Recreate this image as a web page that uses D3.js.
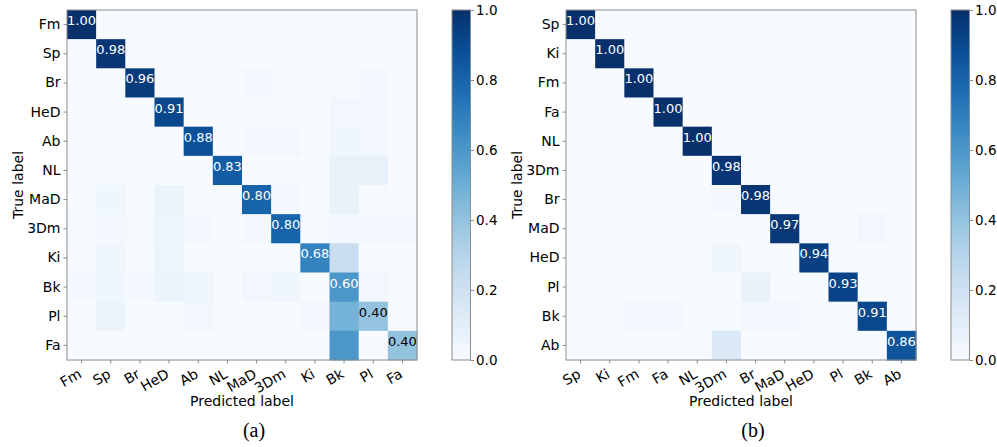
<!DOCTYPE html>
<html>
<head>
<meta charset="utf-8">
<script src="https://cdn.jsdelivr.net/npm/d3@7"></script>
<style>
  body { margin: 0; background: #fff; }
  text { font-family: "DejaVu Sans", sans-serif; }
</style>
</head>
<body>
<svg id="chart" width="997" height="447"></svg>
<script>
// class labels, in the order of each confusion matrix
const labelsA = ['Fm', 'Sp', 'Br', 'HeD', 'Ab', 'NL', 'MaD', '3Dm', 'Ki', 'Bk', 'Pl', 'Fa'];
const labelsB = ['Sp', 'Ki', 'Fm', 'Fa', 'NL', '3Dm', 'Br', 'MaD', 'HeD', 'Pl', 'Bk', 'Ab'];

// normalised confusion matrices (rows = true label, cols = predicted label)
const valuesA = [
  [1.00, 0, 0, 0, 0, 0, 0, 0, 0, 0, 0, 0],
  [0, 0.98, 0, 0, 0, 0, 0, 0, 0, 0.01, 0, 0.01],
  [0, 0, 0.96, 0, 0, 0, 0.02, 0, 0, 0, 0.02, 0],
  [0, 0.01, 0, 0.91, 0, 0, 0.01, 0.01, 0, 0.03, 0.03, 0],
  [0, 0, 0, 0, 0.88, 0, 0.02, 0.03, 0, 0.04, 0.03, 0],
  [0, 0, 0, 0, 0, 0.83, 0, 0, 0, 0.08, 0.07, 0],
  [0, 0.04, 0, 0.06, 0, 0, 0.80, 0.02, 0, 0.07, 0.01, 0],
  [0.01, 0.02, 0.01, 0.05, 0.02, 0, 0.02, 0.80, 0, 0.02, 0.02, 0.02],
  [0, 0.04, 0, 0.05, 0, 0, 0, 0, 0.68, 0.23, 0, 0],
  [0.02, 0.04, 0.02, 0.06, 0.04, 0, 0.03, 0.04, 0, 0.60, 0.03, 0.01],
  [0, 0.06, 0, 0, 0.03, 0, 0, 0, 0.03, 0.48, 0.40, 0],
  [0, 0, 0, 0, 0, 0, 0, 0, 0, 0.60, 0, 0.40]
];
const valuesB = [
  [1.00, 0, 0, 0, 0, 0, 0, 0, 0, 0, 0, 0],
  [0, 1.00, 0, 0, 0, 0, 0, 0, 0, 0, 0, 0],
  [0, 0, 1.00, 0, 0, 0, 0, 0, 0, 0, 0, 0],
  [0, 0, 0, 1.00, 0, 0, 0, 0, 0, 0, 0, 0],
  [0, 0, 0, 0, 1.00, 0, 0, 0, 0, 0, 0, 0],
  [0, 0, 0, 0, 0, 0.98, 0.01, 0.01, 0, 0, 0, 0],
  [0, 0, 0, 0, 0, 0.02, 0.98, 0, 0, 0, 0, 0],
  [0, 0, 0, 0, 0, 0, 0, 0.97, 0, 0, 0.03, 0],
  [0, 0.01, 0, 0, 0, 0.04, 0, 0, 0.94, 0, 0.01, 0],
  [0, 0, 0, 0, 0, 0, 0.07, 0, 0, 0.93, 0, 0],
  [0, 0, 0.02, 0.02, 0, 0.01, 0.02, 0.02, 0, 0, 0.91, 0],
  [0, 0, 0, 0, 0, 0.14, 0, 0, 0, 0, 0, 0.86]
];

const cbarTicks = [0, 0.2, 0.4, 0.6, 0.8, 1.0];
const captions = ['(a)', '(b)'];

const svg = d3.select('#chart');
svg.append('rect').attr('width', 997).attr('height', 447).attr('fill', '#fff');

const colour = d3.scaleSequential(d3.interpolateBlues).domain([0, 1]);
const plotTop = 10, size = 350;
const spine = '#8c8c8c';

// vertical gradient for the colour bars
const grad = svg.append('defs').append('linearGradient')
  .attr('id', 'blues')
  .attr('x1', 0).attr('y1', 1).attr('x2', 0).attr('y2', 0);
d3.range(0, 1.0001, 0.05).forEach(t => {
  grad.append('stop').attr('offset', t).attr('stop-color', colour(t));
});

function drawPanel(left, labels, values, caption, cbarLeft) {
  const g = svg.append('g');
  const x = d3.scaleBand().domain(labels).range([left, left + size]);
  const y = d3.scaleBand().domain(labels).range([plotTop, plotTop + size]);

  // cells
  values.forEach((row, i) => {
    g.selectAll(null)
      .data(row)
      .enter()
      .append('rect')
      .attr('x', (d, j) => x(labels[j]))
      .attr('y', y(labels[i]))
      .attr('width', x.bandwidth() + 0.5)
      .attr('height', y.bandwidth() + 0.5)
      .attr('fill', d => colour(d));
  });

  // diagonal annotations
  g.selectAll(null)
    .data(labels)
    .enter()
    .append('text')
    .attr('x', d => x(d) + x.bandwidth() / 2)
    .attr('y', d => y(d) + y.bandwidth() / 2 + 0.5)
    .attr('text-anchor', 'middle')
    .style('font-size', '13px')
    .attr('fill', (d, i) => values[i][i] > 0.5 ? '#fff' : '#000')
    .text((d, i) => values[i][i].toFixed(2));

  // frame
  g.append('rect')
    .attr('x', left).attr('y', plotTop)
    .attr('width', size).attr('height', size)
    .attr('fill', 'none').attr('stroke', spine);

  // y axis
  const yAxis = g.append('g')
    .attr('transform', `translate(${left},0)`)
    .call(d3.axisLeft(y).tickSize(3.5).tickPadding(3));
  yAxis.select('.domain').remove();
  yAxis.selectAll('line').attr('stroke', spine);
  yAxis.selectAll('text').style('font-size', '14px').attr('fill', '#000');

  // x axis with rotated labels
  const xAxis = g.append('g')
    .attr('transform', `translate(0,${plotTop + size})`)
    .call(d3.axisBottom(x).tickSize(3.5));
  xAxis.select('.domain').remove();
  xAxis.selectAll('line').attr('stroke', spine);
  xAxis.selectAll('text')
    .style('font-size', '14px')
    .attr('fill', '#000')
    .attr('text-anchor', 'end')
    .attr('y', 0).attr('dy', '0.72em')
    .attr('transform', 'translate(-4,8) rotate(-30)');

  // axis titles
  g.append('text')
    .attr('transform', `translate(${left - 44},${plotTop + size / 2}) rotate(-90)`)
    .attr('text-anchor', 'middle')
    .style('font-size', '14px')
    .text('True label');
  g.append('text')
    .attr('x', left + size / 2).attr('y', 406)
    .attr('text-anchor', 'middle')
    .style('font-size', '14px')
    .text('Predicted label');

  // caption
  g.append('text')
    .attr('x', left + size / 2 + 12).attr('y', 437)
    .attr('text-anchor', 'middle')
    .style('font-family', '"Liberation Serif", serif')
    .style('font-size', '20px')
    .text(caption);

  // colour bar
  const cb = svg.append('g');
  const cbW = 18.5;
  cb.append('rect')
    .attr('x', cbarLeft).attr('y', plotTop)
    .attr('width', cbW).attr('height', size)
    .attr('fill', 'url(#blues)')
    .attr('stroke', spine);
  const cy = d3.scaleLinear().domain([0, 1]).range([plotTop + size, plotTop]);
  const cAxis = cb.append('g')
    .attr('transform', `translate(${cbarLeft + cbW},0)`)
    .call(d3.axisRight(cy).tickValues(cbarTicks).tickFormat(d3.format('.1f')).tickSize(3.5).tickPadding(2));
  cAxis.select('.domain').remove();
  cAxis.selectAll('line').attr('stroke', spine);
  cAxis.selectAll('text').style('font-size', '13.5px').attr('fill', '#000');
}

drawPanel(67, labelsA, valuesA, captions[0], 452);
drawPanel(566, labelsB, valuesB, captions[1], 951);
</script>
</body>
</html>
